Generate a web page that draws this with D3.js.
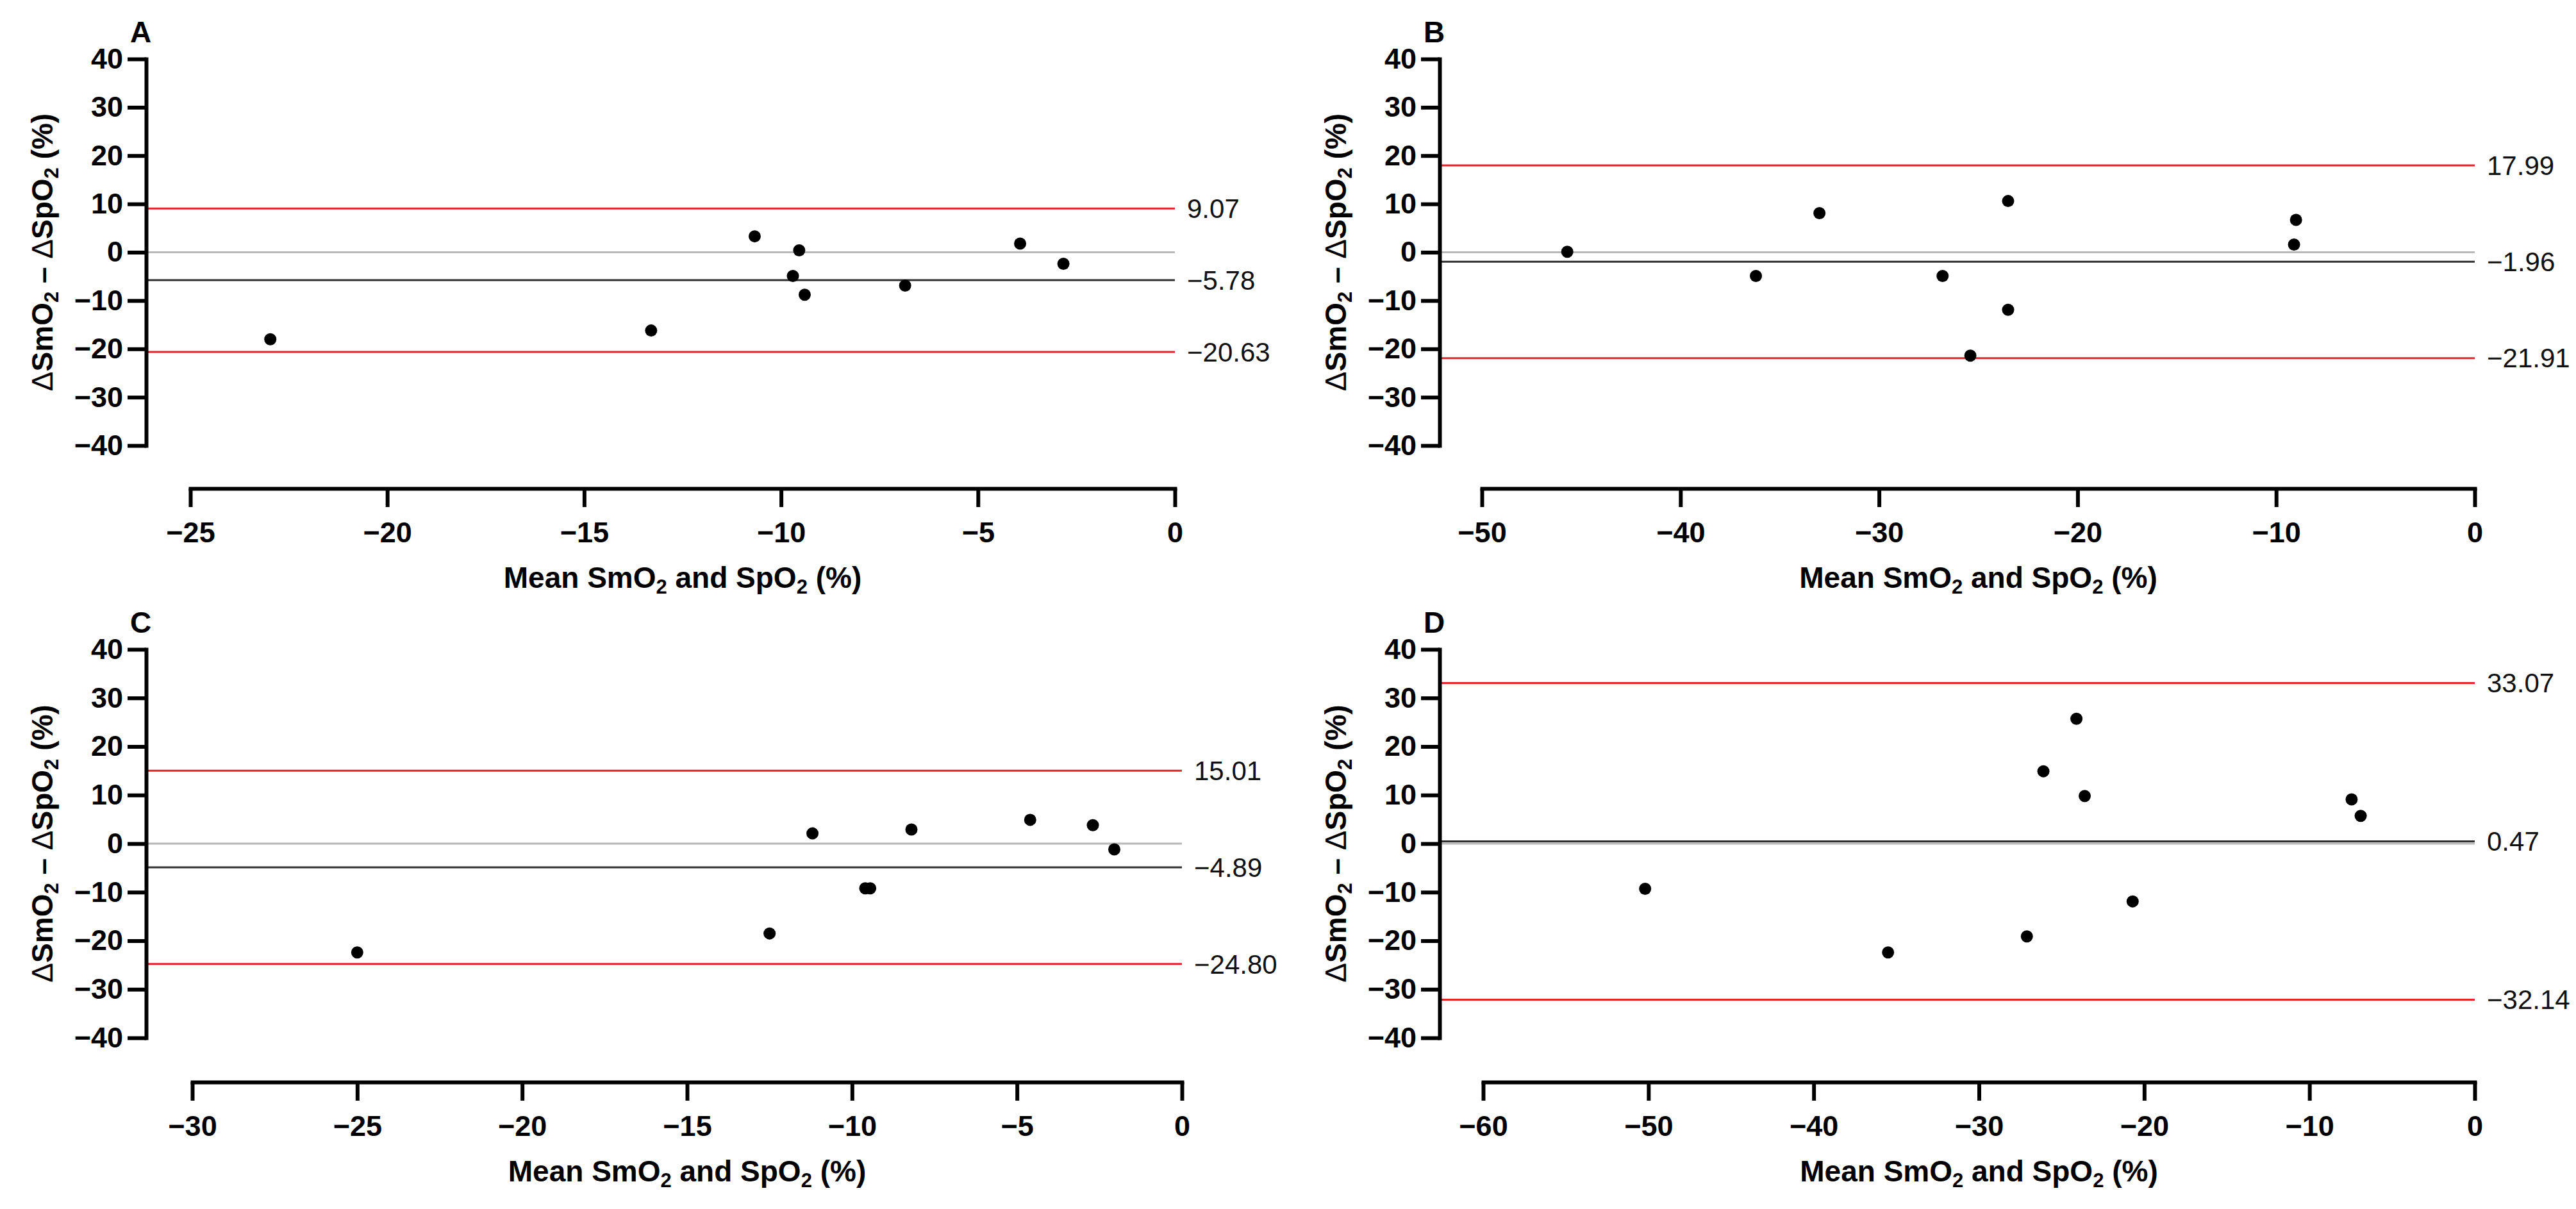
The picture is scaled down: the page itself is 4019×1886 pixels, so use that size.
<!DOCTYPE html>
<html>
<head>
<meta charset="utf-8">
<script src="https://cdn.jsdelivr.net/npm/d3@7"></script>
<style>
  body { margin: 0; background: #fff; }
  svg { display: block; }
</style>
</head>
<body>
<svg id="chart" width="4019" height="1886"></svg>
<script>
// panel letters
const panelNames = ["A", "B", "C", "D"];

// mean of SmO2 and SpO2 (x) and difference (y), per panel
const meanA = [-22.97, -13.3, -10.67, -9.54, -9.7, -9.4, -6.85, -3.93, -2.83];
const diffA = [-18.0, -16.2, 3.3, 0.4, -4.9, -8.8, -6.9, 1.8, -2.4];

const meanB = [-45.7, -36.2, -33.0, -26.8, -25.4, -23.5, -23.5, -9.0, -9.1];
const diffB = [0.1, -4.9, 8.1, -4.9, -21.4, 10.6, -11.9, 6.7, 1.6];

const meanC = [-25.0, -12.5, -11.2, -9.6, -9.45, -8.2, -4.6, -2.7, -2.05];
const diffC = [-22.4, -18.5, 2.1, -9.2, -9.2, 2.9, 4.9, 3.8, -1.2];

const meanD = [-50.2, -35.5, -27.1, -26.1, -24.1, -23.6, -20.7, -7.45, -6.9];
const diffD = [-9.3, -22.4, -19.1, 14.9, 25.7, 9.8, -11.9, 9.1, 5.7];

// bias and limits of agreement
const biasValues = [-5.78, -1.96, -4.89, 0.47];
const upperLoA = [9.07, 17.99, 15.01, 33.07];
const lowerLoA = [-20.63, -21.91, -24.80, -32.14];

// x axis domains and tick labels
const xMins = [-25, -50, -30, -60];
const xTickSets = [
  [-25, -20, -15, -10, -5, 0],
  [-50, -40, -30, -20, -10, 0],
  [-30, -25, -20, -15, -10, -5, 0],
  [-60, -50, -40, -30, -20, -10, 0]
];
const yTicks = [-40, -30, -20, -10, 0, 10, 20, 30, 40];

const allMeans = [meanA, meanB, meanC, meanD];
const allDiffs = [diffA, diffB, diffC, diffD];

// where each panel sits on the page
const layout = [
  { axisX: 228, x0: 297, x1: 1833, yTop: 92, yBot: 695, xAxisY: 762 },
  { axisX: 2246, x0: 2312, x1: 3861, yTop: 92, yBot: 695, xAxisY: 762 },
  { axisX: 228, x0: 300, x1: 1844, yTop: 1013, yBot: 1619, xAxisY: 1688 },
  { axisX: 2246, x0: 2314, x1: 3861, yTop: 1013, yBot: 1619, xAxisY: 1688 }
];

const FONT = "'Liberation Sans', Arial, Helvetica, sans-serif";
const RED = "#e3242b";
const GREY = "#b8b8b8";
const DARK = "#303030";

const svg = d3.select("#chart");
svg.append("rect").attr("width", 4019).attr("height", 1886).attr("fill", "#fff");

function subLabel(textEl, parts) {
  // parts: [text, isSub, weight]
  parts.forEach((p) => {
    const t = textEl.append("tspan").text(p[0]);
    if (p[1]) {
      t.attr("font-size", 31).attr("dy", 9);
    } else if (p.prevSub) {
      t.attr("dy", -9);
    }
    if (p[2]) t.attr("font-weight", p[2]);
  });
}

function addParts(textEl, parts) {
  let wasSub = false;
  parts.forEach((p) => {
    const t = textEl.append("tspan").text(p.t);
    if (p.sub) {
      t.attr("font-size", 31).attr("dy", 9);
    } else if (wasSub) {
      t.attr("dy", -9);
    }
    if (p.w) t.attr("font-weight", p.w);
    wasSub = !!p.sub;
  });
}

function drawPanel(i) {
  const L = layout[i];
  const g = svg.append("g");

  const x = d3.scaleLinear().domain([xMins[i], 0]).range([L.x0, L.x1]);
  const y = d3.scaleLinear().domain([-40, 40]).range([L.yBot, L.yTop]);

  // horizontal reference lines: zero, bias, limits of agreement
  const refLines = [
    { v: 0, c: GREY },
    { v: biasValues[i], c: DARK, label: biasValues[i] },
    { v: upperLoA[i], c: RED, label: upperLoA[i] },
    { v: lowerLoA[i], c: RED, label: lowerLoA[i] }
  ];

  g.selectAll("line.ref")
    .data(refLines)
    .enter()
    .append("line")
    .attr("class", "ref")
    .attr("x1", L.axisX)
    .attr("x2", x(0))
    .attr("y1", (d) => y(d.v))
    .attr("y2", (d) => y(d.v))
    .attr("stroke", (d) => d.c)
    .attr("stroke-width", 3);

  g.selectAll("text.ref")
    .data(refLines.filter((d) => d.label !== undefined))
    .enter()
    .append("text")
    .attr("class", "ref")
    .attr("x", x(0) + 19)
    .attr("y", (d) => y(d.v))
    .attr("dy", "0.35em")
    .attr("font-family", FONT)
    .attr("font-size", 42)
    .attr("fill", "#111")
    .text((d) => d3.format(".2f")(d.label));

  // y axis
  const yAxis = g.append("g")
    .attr("transform", `translate(${L.axisX},0)`)
    .call(d3.axisLeft(y).tickValues(yTicks).tickSize(29).tickSizeOuter(0).tickPadding(7));

  // x axis
  const xAxis = g.append("g")
    .attr("transform", `translate(0,${L.xAxisY})`)
    .call(d3.axisBottom(x).tickValues(xTickSets[i]).tickSize(29).tickSizeOuter(0).tickPadding(23));

  [yAxis, xAxis].forEach((ax) => {
    ax.select(".domain").attr("stroke", "#000").attr("stroke-width", 6).attr("stroke-linecap", "square");
    ax.selectAll(".tick line").attr("stroke", "#000").attr("stroke-width", 6);
    ax.selectAll(".tick text")
      .attr("fill", "#000")
      .attr("font-family", FONT)
      .attr("font-weight", "bold")
      .attr("font-size", 45);
  });

  // data points
  const pts = allMeans[i].map((m, k) => ({ m: m, d: allDiffs[i][k] }));
  g.selectAll("circle")
    .data(pts)
    .enter()
    .append("circle")
    .attr("cx", (d) => x(d.m))
    .attr("cy", (d) => y(d.d))
    .attr("r", 9.5)
    .attr("fill", "#000");

  // panel letter
  g.append("text")
    .attr("x", L.axisX - 25)
    .attr("y", L.yTop - 26)
    .attr("font-family", FONT)
    .attr("font-weight", "bold")
    .attr("font-size", 46)
    .text(panelNames[i]);

  // x axis title
  const xt = g.append("text")
    .attr("x", (L.x0 + L.x1) / 2)
    .attr("y", L.xAxisY + 155)
    .attr("text-anchor", "middle")
    .attr("font-family", FONT)
    .attr("font-weight", "bold")
    .attr("font-size", 46);
  addParts(xt, [
    { t: "Mean SmO" }, { t: "2", sub: true }, { t: " and SpO" }, { t: "2", sub: true }, { t: " (%)" }
  ]);

  // y axis title
  const cy = (L.yTop + L.yBot) / 2;
  const yt = g.append("text")
    .attr("transform", `translate(${L.axisX - 146},${cy}) rotate(-90)`)
    .attr("text-anchor", "middle")
    .attr("font-family", FONT)
    .attr("font-weight", "bold")
    .attr("font-size", 46);
  addParts(yt, [
    { t: "\u0394", w: "normal" }, { t: "SmO" }, { t: "2", sub: true }, { t: " \u2013 " },
    { t: "\u0394", w: "normal" }, { t: "SpO" }, { t: "2", sub: true }, { t: " (%)" }
  ]);
}

for (let i = 0; i < panelNames.length; i++) {
  drawPanel(i);
}
</script>
</body>
</html>
